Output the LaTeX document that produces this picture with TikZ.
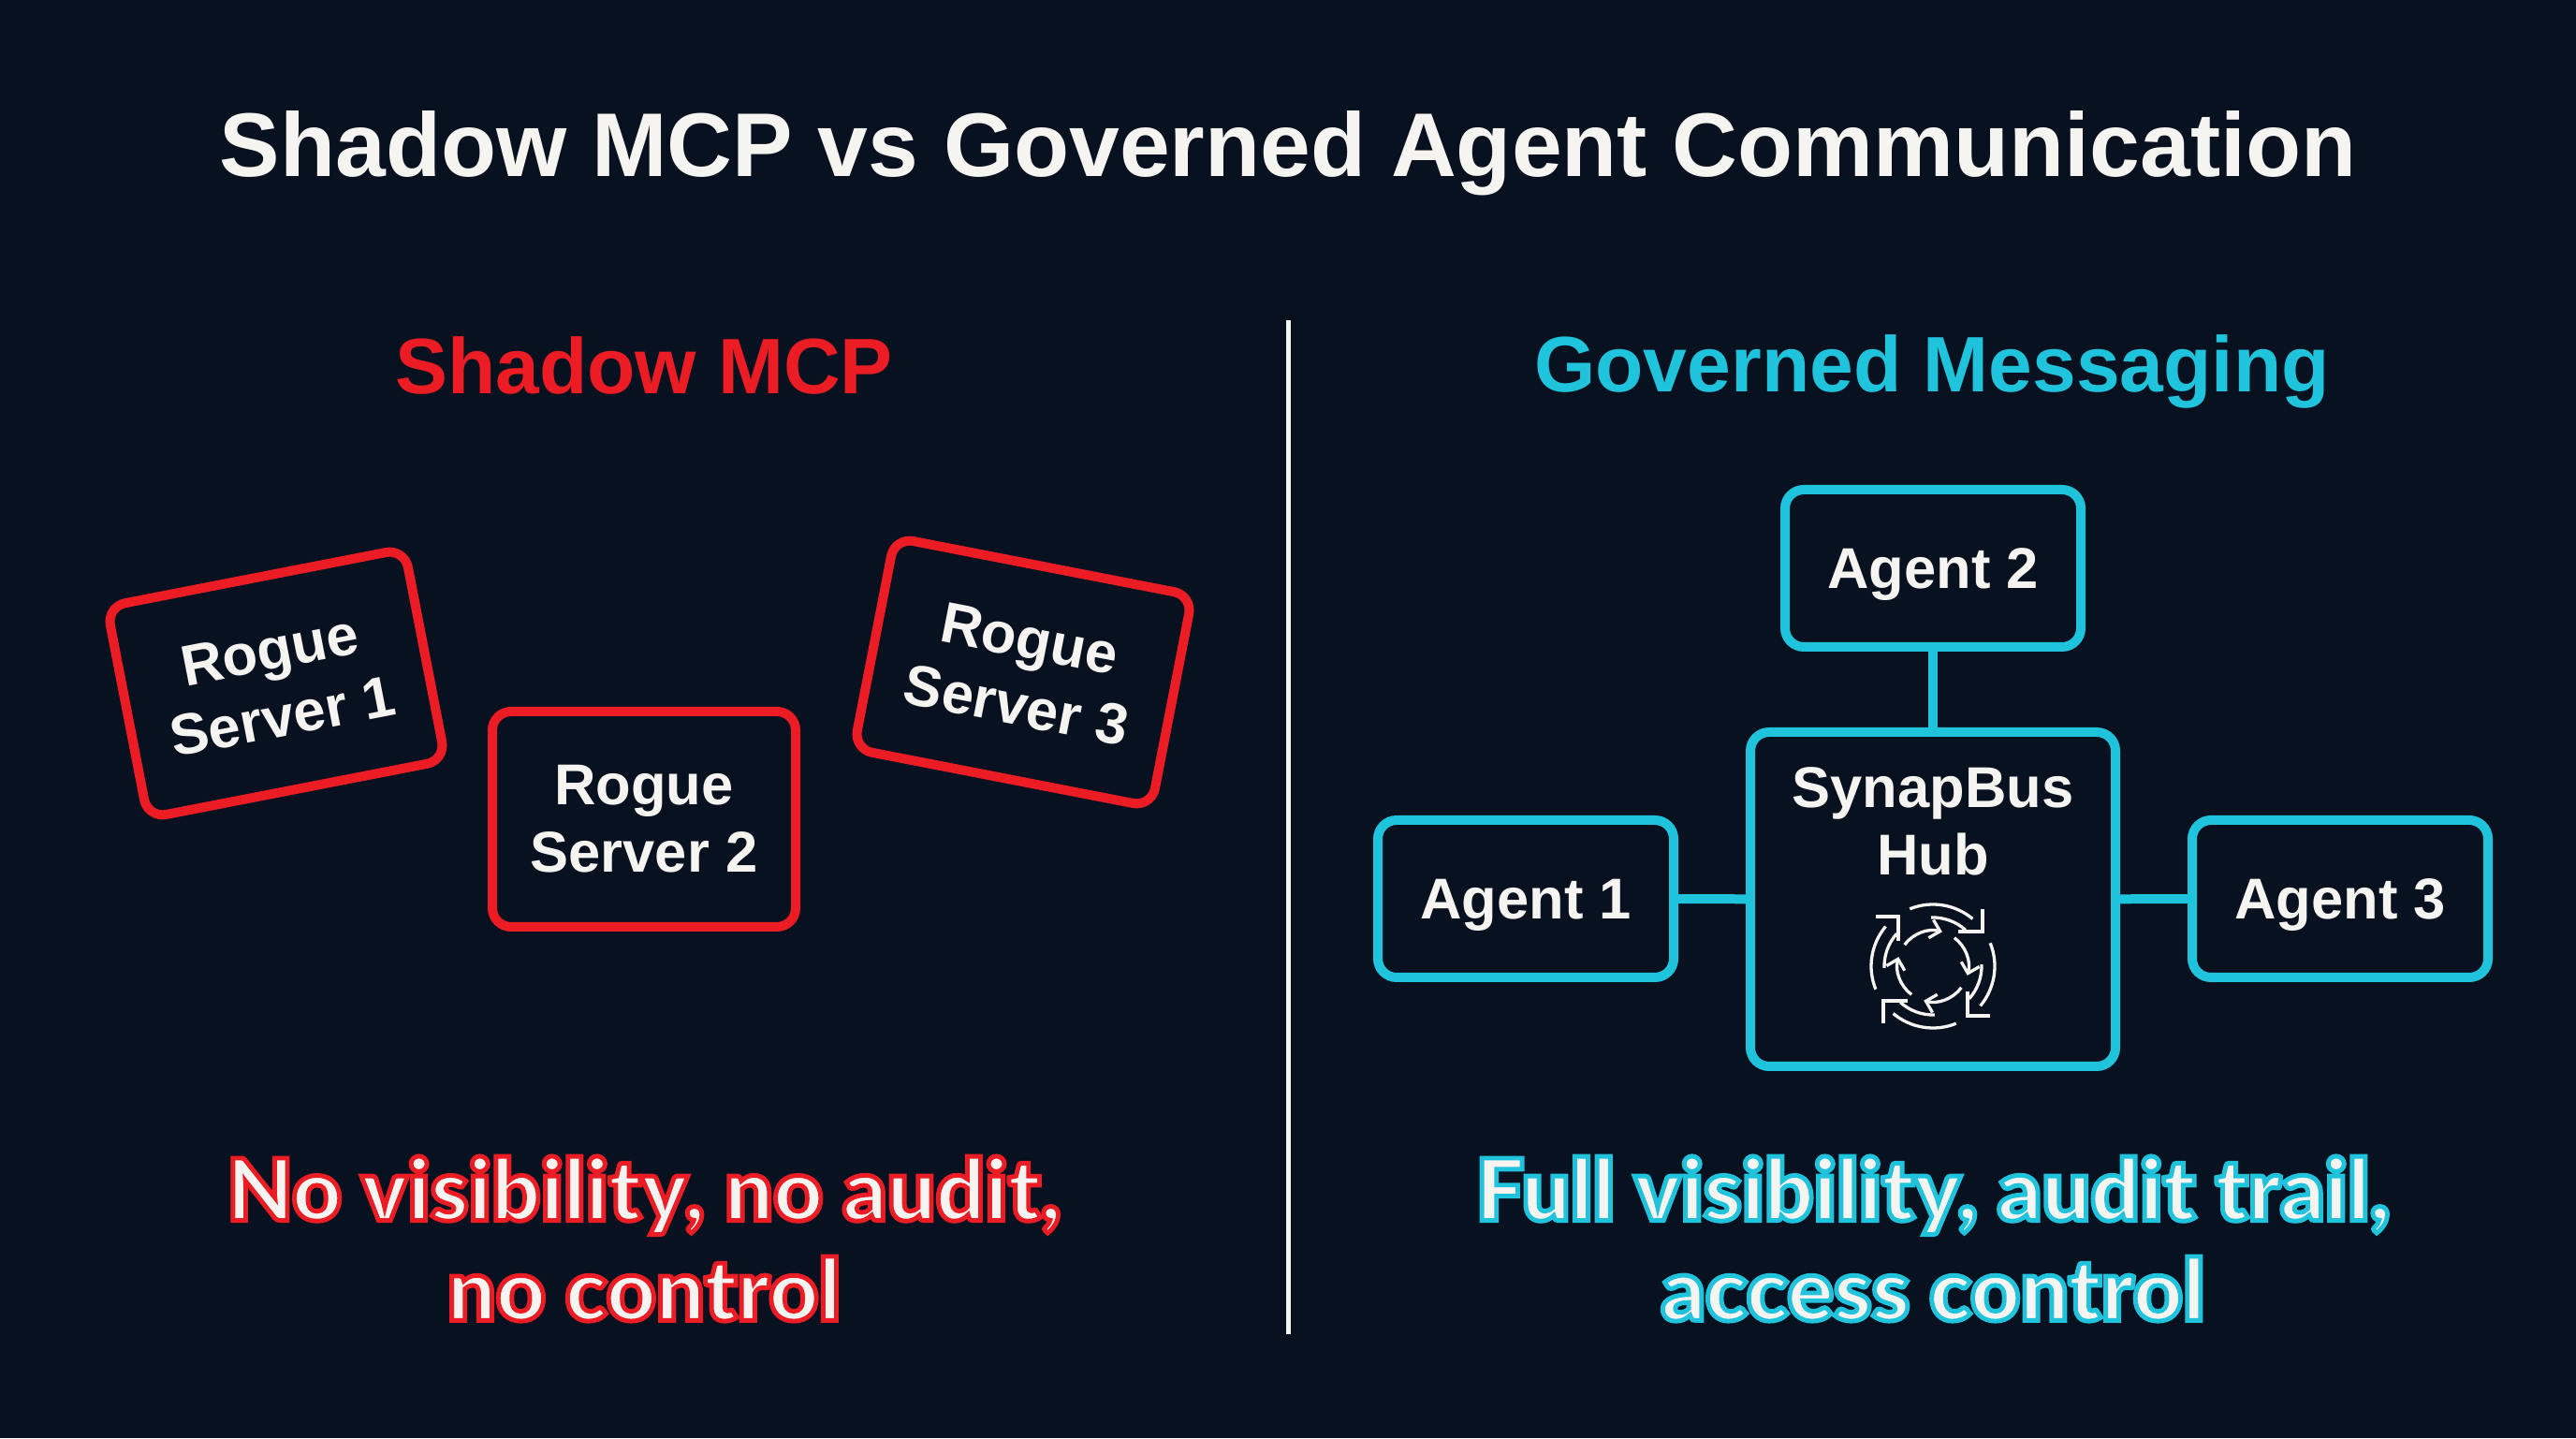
\documentclass[tikz,border=0pt]{standalone}
\usepackage{fontspec}
\usetikzlibrary{arrows.meta}
\setmainfont{Liberation Sans}
\newfontfamily\heavyfont{Lato Black}
\definecolor{bgdark}{HTML}{08111F}
\definecolor{roguered}{HTML}{EC1C24}
\definecolor{busblue}{HTML}{1FC3DC}
\definecolor{offwhite}{HTML}{F6F4F1}
% white letters with a coloured rim
\newcommand{\rimtext}[2]{\special{pdf:code q 2 Tr 1.4 w #1 RG}#2\special{pdf:code Q}}
\tikzset{
    rogue/.style={draw=roguered,line width=1mm,rounded corners=2mm,minimum width=3.24cm,minimum height=2.3cm,
        text=offwhite,align=center,font=\fontsize{17.5}{20.5}\selectfont\bfseries},
    agent/.style={draw=busblue,line width=1mm,rounded corners=2mm,minimum width=3.16cm,minimum height=1.68cm,
        text=offwhite,text height=12pt,text depth=0pt,font=\fontsize{17.5}{20.5}\selectfont\bfseries},
    link/.style={busblue,line width=1mm},
    heading/.style={font=\fontsize{23.9}{28}\selectfont\bfseries},
    verdict/.style={text=offwhite,align=center,font=\fontsize{26}{30.4}\selectfont\heavyfont},
    iconline/.style={offwhite,line width=0.33mm}
}
\begin{document}
\begin{tikzpicture}
    \useasboundingbox[fill=bgdark] (0,0) rectangle (27.52,15.36);
    \node[text=offwhite,font=\fontsize{27.5}{32}\selectfont\bfseries] (title) at (13.76,13.72) {Shadow MCP vs Governed Agent Communication};
    %left side
    \node[heading,text=roguered] (shadow) at (6.88,11.46) {Shadow MCP};
    \node[rogue,rotate=11] (rogue1) at (2.95,8.06) {Rogue\\Server 1};
    \node[rogue] (rogue2) at (6.88,6.61) {Rogue\\Server 2};
    \node[rogue,rotate=-11] (rogue3) at (10.93,8.18) {Rogue\\Server 3};
    \node[verdict] (novis) at (6.88,2.13) {\rimtext{0.925 0.11 0.14}{No visibility, no audit,\\no control}};
    %divider
    \coordinate (divtop) at (13.76,11.94);
    \coordinate (divbot) at (13.76,1.11);
    \draw[offwhite,line width=0.5mm] (divtop) -- (divbot);
    %right side
    \node[heading,text=busblue] (governed) at (20.64,11.39) {Governed Messaging};
    \node[agent,minimum width=3.9cm,minimum height=3.57cm] (hub) at (20.65,5.755) {};
    \node[text=offwhite,align=center,font=\fontsize{17.5}{20.5}\selectfont\bfseries] (hubtext) at (20.65,6.59) {SynapBus\\Hub};
    \node[agent] (agent1) at (16.30,5.76) {Agent 1};
    \node[agent] (agent2) at (20.65,9.29) {Agent 2};
    \node[agent] (agent3) at (25.00,5.76) {Agent 3};
    \draw[link] (agent2) -- (hub);
    \draw[link] (agent1) -- (hub);
    \draw[link] (agent3) -- (hub);
    \node[verdict] (fullvis) at (20.65,2.13) {\rimtext{0.12 0.765 0.86}{Full visibility, audit trail,\\access control}};
    %icon
    \foreach \ang in {0,-90,-180,-270}{
        \begin{scope}[shift={(20.65,5.04)},rotate=\ang]
            \draw[iconline,-{Straight Barb[length=1mm,width=2mm]}] (143:0.38) arc [start angle=143,end angle=75,radius=0.38];
            \draw[iconline] (112:0.66) arc [start angle=112,end angle=50,radius=0.66];
            \draw[iconline] (92:0.52) arc [start angle=92,end angle=48,radius=0.52];
            \draw[iconline] (0.27,0.37) -- (0.53,0.37) -- (0.53,0.61);
        \end{scope}
    }
\end{tikzpicture}
\end{document}
